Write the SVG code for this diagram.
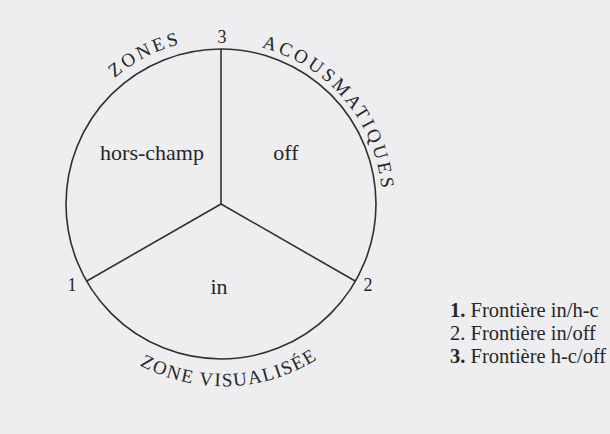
<svg xmlns="http://www.w3.org/2000/svg" width="610" height="434" viewBox="0 0 610 434">
<style>
.ln{fill:none;stroke:#303030;stroke-width:1.6}
.t{font-family:"Liberation Serif","DejaVu Serif",serif;fill:#262626}
.cap{font-size:19px;letter-spacing:3px}
.lab{font-size:22px}
.num{font-size:18px}
.leg{font-size:20.5px}
</style>
<defs>
<path id="arcZones" d="M 78.1 121.5 A 165 165 0 0 1 238.2 39.9"/>
<path id="arcAcous" d="M 207 43 A 161 161 0 0 1 376.5 245.7"/>
<path id="arcBottom" d="M 66.6 290.4 A 176 176 0 0 0 385.6 278.4"/>
</defs>
<rect width="610" height="434" fill="#eeeef1"/>
<g id="connectors">
<line class="ln" x1="221" y1="49" x2="221" y2="204"/>
<line class="ln" x1="221" y1="204" x2="86" y2="281.5"/>
<line class="ln" x1="221" y1="204" x2="356" y2="281.5"/>
</g>
<g id="circle">
<circle class="ln" cx="221" cy="204" r="155"/>
</g>
<g id="zone-labels">
<text class="t cap"><textPath href="#arcZones" startOffset="50%" text-anchor="middle">ZONES</textPath></text>
<text class="t cap"><textPath href="#arcAcous" startOffset="50%" text-anchor="middle">ACOUSMATIQUES</textPath></text>
<text class="t cap" style="letter-spacing:1.5px"><textPath href="#arcBottom" startOffset="50%" text-anchor="middle">ZONE VISUALISÉE</textPath></text>
</g>
<g id="hors-champ"><text class="t lab" x="152" y="160" text-anchor="middle">hors-champ</text></g>
<g id="off"><text class="t lab" x="286" y="160" text-anchor="middle">off</text></g>
<g id="in"><text class="t lab" x="219" y="294" text-anchor="middle">in</text></g>
<g id="frontier-1"><text class="t num" x="72" y="291" text-anchor="middle">1</text></g>
<g id="frontier-2"><text class="t num" x="368" y="291" text-anchor="middle">2</text></g>
<g id="frontier-3"><text class="t num" x="222" y="43" text-anchor="middle">3</text></g>
<g id="legend">
<text class="t leg" x="450" y="317"><tspan font-weight="bold">1.</tspan> Frontière in/h-c</text>
<text class="t leg" x="450" y="340">2. Frontière in/off</text>
<text class="t leg" x="450" y="363"><tspan font-weight="bold">3.</tspan> Frontière h-c/off</text>
</g>
</svg>
